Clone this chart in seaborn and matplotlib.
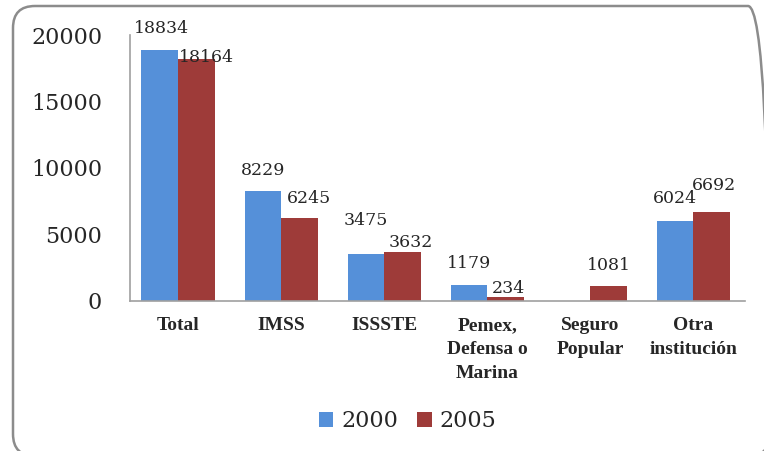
import pandas as pd
import numpy as np
import matplotlib.pyplot as plt
import seaborn as sns
from matplotlib.patches import FancyBboxPatch

# données
categorias = ["Total", "IMSS", "ISSSTE", "Pemex,\nDefensa o\nMarina", "Seguro\nPopular", "Otra\ninstitución"]
anios = ["2000", "2005"]
valores_2000 = [18834, 8229, 3475, 1179, np.nan, 6024]
valores_2005 = [18164, 6245, 3632, 234, 1081, 6692]
ticks_y = [0, 5000, 10000, 15000, 20000]

data = pd.DataFrame({
    "categoria": categorias * 2,
    "anio": [anios[0]] * len(categorias) + [anios[1]] * len(categorias),
    "valor": valores_2000 + valores_2005,
})

sns.set_style("white")
plt.rcParams["font.family"] = ["DejaVu Serif"]

fig = plt.figure(figsize=(7.64, 4.51), dpi=100)
# zone du graphique en pixels : x 130 -> 745, y 35 -> 300.5
ax = fig.add_axes([130 / 764, 1 - 300.5 / 451, 615 / 764, 265.5 / 451])

colores = {"2000": "#5590D9", "2005": "#9E3B39"}
sns.barplot(data=data, x="categoria", y="valor", hue="anio", order=categorias,
            hue_order=anios, palette=colores, width=0.71, saturation=1,
            edgecolor="none", ax=ax)

# etiquetas de datos, décalages (dx, dy) en pixels comme dans l'original
decalages = [
    [(2, 17), (0, 16), (0, 29), (0, 17), (0, 0), (0, 18)],
    [(10, -3), (10, 15), (8, 5), (3, 4), (0, 16), (2, 22)],
]
for cont, dec in zip(ax.containers, decalages):
    for barra in cont:
        if barra is None:
            continue
        h = barra.get_height()
        if np.isnan(h):
            continue
        xc = barra.get_x() + barra.get_width() / 2
        dx, dy = dec[int(round(xc))]
        ax.annotate(f"{int(h)}", (xc, h),
                    xytext=(dx * 0.72, dy * 0.72), textcoords="offset points",
                    ha="center", va="baseline", fontsize=12.5)

ax.set_xlim(-0.466, 5.5)
ax.set_ylim(0, 20000)
ax.set_yticks(ticks_y)
ax.set_yticklabels([str(t) for t in ticks_y], fontsize=16)
ax.tick_params(axis="y", pad=20, length=0)
ax.tick_params(axis="x", pad=12, length=0)
for lab in ax.get_xticklabels():
    lab.set_family("Liberation Serif")
    lab.set_fontsize(14)
    lab.set_fontweight("bold")
    lab.set_linespacing(1.55)
    lab.set_verticalalignment("top")
ax.set_xlabel("")
ax.set_ylabel("")
sns.despine(ax=ax, top=True, right=True)
for s in ["left", "bottom"]:
    ax.spines[s].set_color("#A0A0A0")
    ax.spines[s].set_linewidth(1.2)

ax.legend(loc="center", bbox_to_anchor=(407.5 / 764, 1 - 421 / 451), bbox_transform=fig.transFigure,
          ncol=2, frameon=False, fontsize=16, handlelength=0.65, handleheight=0.65,
          handletextpad=0.36, columnspacing=0.86, borderpad=0)

# cadre arrondi (en pouces)
marco = FancyBboxPatch((0.13, -0.05), 7.57, 4.50,
                       boxstyle="round,pad=0,rounding_size=0.22",
                       transform=fig.dpi_scale_trans, fill=False,
                       edgecolor="#8C8C8C", linewidth=1.8, clip_on=False)
fig.patches.append(marco)

fig.savefig("out.png", dpi=100)
